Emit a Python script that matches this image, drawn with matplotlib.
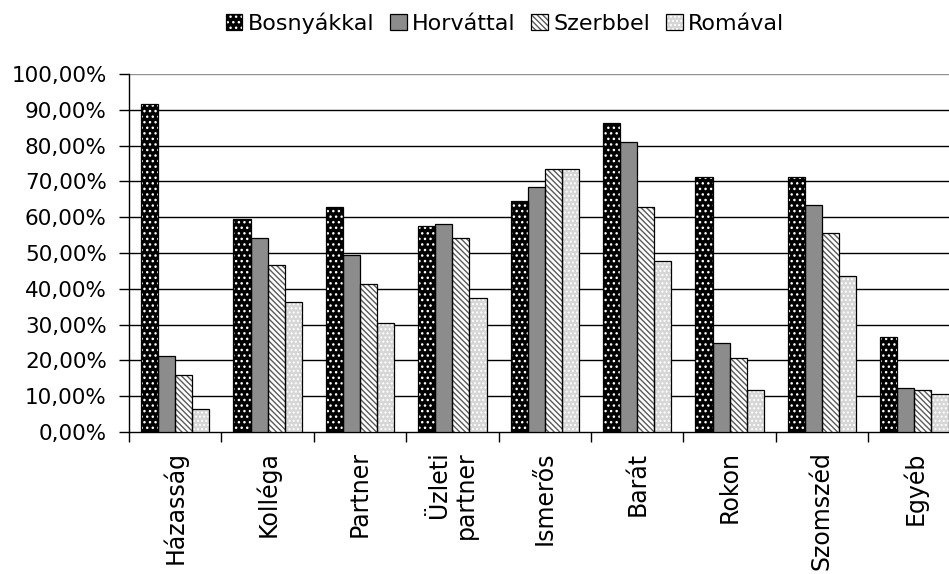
import matplotlib
matplotlib.use("Agg")
import matplotlib.pyplot as plt
from matplotlib.ticker import FuncFormatter, MultipleLocator
from matplotlib.legend_handler import HandlerTuple
import matplotlib.patches as mpatches
import numpy as np

categories = ["Házasság", "Kolléga", "Partner", "Üzleti\npartner", "Ismerős",
              "Barát", "Rokon", "Szomszéd", "Egyéb"]
series_names = ["Bosnyákkal", "Horváttal", "Szerbbel", "Romával"]
bosnyak = [91.5, 59.5, 62.8, 57.6, 64.4, 86.2, 71.3, 71.3, 26.5]
horvat = [21.3, 54.2, 49.4, 58.2, 68.3, 81.0, 24.8, 63.3, 12.3]
szerb = [16.0, 46.7, 41.4, 54.2, 73.5, 62.8, 20.8, 55.7, 11.7]
roma = [6.4, 36.2, 30.5, 37.4, 73.5, 47.7, 11.7, 43.7, 10.6]

plt.rcParams["font.family"] = "DejaVu Sans"
plt.rcParams["hatch.linewidth"] = 1.0

# fill styles: (face, hatch colour, hatch)
styles = [("black", "white", "..."),
          ("#8c8c8c", None, None),
          ("white", "#5a5a5a", "\\\\\\\\\\\\"),
          ("#d6d6d6", "white", "....")]

fig = plt.figure(figsize=(9.49, 5.74), dpi=100)
ax = fig.add_axes([129/949, 142/574, 831.6/949, 358/574])

x = np.arange(len(categories))
w = 0.185
handles = []
for i, vals in enumerate([bosnyak, horvat, szerb, roma]):
    face, hc, hatch = styles[i]
    pos = x + (i - 1.5) * w
    h = np.array(vals) / 100
    if hatch:
        ax.bar(pos, h, w, color=face, edgecolor=hc, hatch=hatch, linewidth=0, zorder=3)
    else:
        ax.bar(pos, h, w, color=face, linewidth=0, zorder=3)
    ax.bar(pos, h, w, fill=False, edgecolor="black", linewidth=0.9, zorder=4)
    p1 = mpatches.Patch(facecolor=face, edgecolor=hc if hc else face, hatch=hatch, linewidth=0)
    p2 = mpatches.Patch(fill=False, edgecolor="black", linewidth=0.9)
    handles.append((p1, p2))

ax.set_xlim(-0.5, len(categories) - 0.5)
ax.set_ylim(0, 1.0)
ax.yaxis.set_major_locator(MultipleLocator(0.1))
ax.yaxis.set_major_formatter(FuncFormatter(lambda v, p: f"{v*100:.2f}%".replace(".", ",")))
for yv in np.arange(0.1, 1.01, 0.1):
    ax.axhline(yv, color="#909090" if yv > 0.95 else "black", lw=1.0, zorder=1)

ax.set_xticks(x)
ax.set_xticklabels(categories, rotation=90, ha="center", va="top", ma="right", fontsize=17)
ax.set_xticks(np.arange(len(categories) + 1) - 0.5, minor=True)
ax.tick_params(axis="x", which="major", length=0, pad=14)
ax.tick_params(axis="x", which="minor", length=7, width=1, direction="out", color="black")
ax.tick_params(axis="y", length=7, width=1, direction="out", labelsize=15.5, pad=9)

for s in ["top", "right"]:
    ax.spines[s].set_visible(False)
ax.spines["left"].set_linewidth(1.0)
ax.spines["bottom"].set_linewidth(1.0)

fig.legend(handles, series_names, loc="center", bbox_to_anchor=(505/949, 1 - 23/574),
           ncol=4, frameon=False, fontsize=16, handler_map={tuple: HandlerTuple(ndivide=1)},
           handlelength=0.75, handleheight=0.7, handletextpad=0.25, columnspacing=0.7,
           borderpad=0)

fig.savefig("out.png", dpi=100)
